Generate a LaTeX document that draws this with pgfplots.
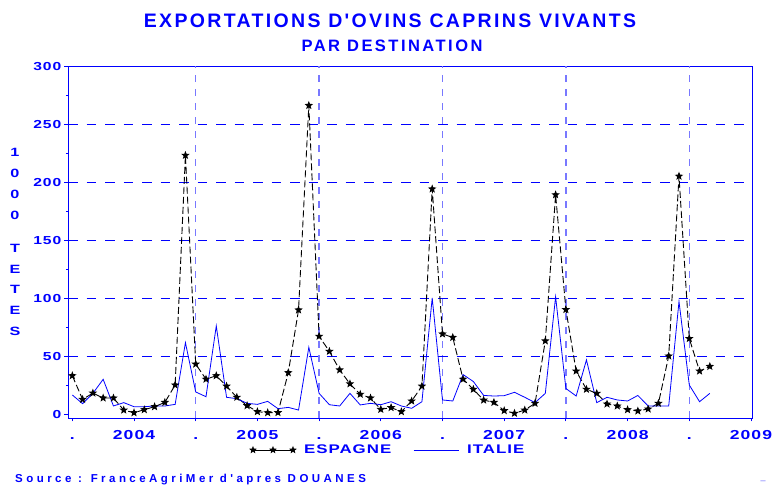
\documentclass[border=0pt]{standalone}
\usepackage{fontspec}
\setmainfont{Liberation Sans}
\newfontfamily\titlef[LetterSpace=12]{Liberation Sans}
\newfontfamily\subf[LetterSpace=15]{Liberation Sans}
\newfontfamily\tickf[LetterSpace=8,FakeStretch=1.35]{Liberation Sans}
\newfontfamily\srcf[LetterSpace=30]{Liberation Sans}
\usepackage{pgfplots}
\usepackage{pgfplotstable}
\pgfplotsset{compat=1.18}
\definecolor{sasblue}{RGB}{0,0,255}
\definecolor{lightgrid}{RGB}{120,120,255}
\pgfdeclareplotmark{fstar}{%
 \pgfpathmoveto{\pgfpointpolar{90}{\pgfplotmarksize}}%
 \pgfpathlineto{\pgfpointpolar{126}{0.42\pgfplotmarksize}}%
 \pgfpathlineto{\pgfpointpolar{162}{\pgfplotmarksize}}%
 \pgfpathlineto{\pgfpointpolar{198}{0.42\pgfplotmarksize}}%
 \pgfpathlineto{\pgfpointpolar{234}{\pgfplotmarksize}}%
 \pgfpathlineto{\pgfpointpolar{270}{0.42\pgfplotmarksize}}%
 \pgfpathlineto{\pgfpointpolar{306}{\pgfplotmarksize}}%
 \pgfpathlineto{\pgfpointpolar{342}{0.42\pgfplotmarksize}}%
 \pgfpathlineto{\pgfpointpolar{18}{\pgfplotmarksize}}%
 \pgfpathlineto{\pgfpointpolar{54}{0.42\pgfplotmarksize}}%
 \pgfpathclose\pgfusepathqfillstroke}
\pgfplotstableread{
i esp ita
0 33 16.4
1 12.6 8.9
2 18 17.8
3 13.8 29.9
4 13.8 6.9
5 3.4 9.8
6 1.1 6.3
7 3.7 6.3
8 6.3 6.9
9 10 6.9
10 25 8.3
11 223 61.5
12 43 19
13 30 14.9
14 33 75.9
15 24 14.4
16 14.4 13.2
17 7.2 9.2
18 2 8.3
19 1.1 10.9
20 1.2 4.6
21 35.6 5.7
22 89.7 3.4
23 266 57.5
24 67 17.8
25 54 8
26 38 6.9
27 26 17.8
28 17 7.8
29 13.8 9.2
30 4 8
31 5.5 10.6
32 2 6.9
33 11.2 4.9
34 24 10.6
35 194 100
36 69 12.1
37 66 11.2
38 30 34
39 21.3 28
40 12 16
41 10 15.5
42 2.9 15.8
43 0.6 18.7
44 3.4 14.4
45 9.2 9.8
46 63 17.8
47 189 101
48 90 22
49 37 15.5
50 21.3 46.6
51 17.8 9.8
52 8.6 14.4
53 6.9 12.1
54 3.7 11.2
55 2.6 16
56 4.3 6.9
57 9.2 6.9
58 50 6.9
59 205 97
60 65 25
61 37 10.6
62 41 17.8
}\datatable
\begin{document}
\begin{tikzpicture}
\path[use as bounding box] (0,0) rectangle (773pt,486pt);
\begin{axis}[
  at={(68pt,68pt)}, anchor=south west,
  scale only axis, width=684pt, height=352pt,
  xmin=-0.42, xmax=66.1, ymin=-3.45, ymax=300,
  axis line style={sasblue, line width=0.9pt},
  every tick/.style={sasblue, line width=0.8pt},
  tick pos=left, tick align=outside,
  xtick={0,6,...,66},
  xticklabels={.,2004,.,2005,.,2006,.,2007,.,2008,.,2009},
  x tick label style={font=\tickf\bfseries\fontsize{13}{13}\selectfont, text=sasblue, anchor=north, inner sep=0pt, text height=9.3pt, text depth=0pt, yshift=-9pt},
  ytick={0,50,...,300},
  minor ytick={25,75,...,275},
  major tick length=3.5pt, minor tick length=2pt,
  y tick label style={font=\tickf\bfseries\fontsize{11.6}{11.6}\selectfont, text=sasblue, anchor=east, inner sep=0pt, text height=8.3pt, text depth=0pt, xshift=-3pt},
  /pgf/number format/assume math mode=true,
  extra y ticks={50,100,150,200,250},
  extra y tick labels={},
  extra y tick style={grid=major, major grid style={sasblue, line width=0.8pt, dash pattern=on 9.5pt off 9pt}},
  extra x ticks={12,24,36,48,60},
  extra x tick labels={},
  extra x tick style={grid=major, major tick length=0pt, major grid style={lightgrid, line width=1.4pt, dash pattern=on 7pt off 7pt}},
  legend columns=2,
  legend style={draw=none, fill=none, at={(0.468,-0.091)}, anchor=center,
    font=\tickf\bfseries\fontsize{12.5}{12.5}\selectfont, text=sasblue,
    /tikz/every odd column/.append style={column sep=6pt},
    /tikz/every even column/.append style={column sep=20pt}},
]
\addplot[black, line width=0.9pt, dash pattern=on 7pt off 3pt, mark=fstar, mark size=3.2pt, mark options={solid, fill=black},
  legend image code/.code={\draw[solid, line width=0.6pt, mark repeat=1] plot coordinates {(0pt,0pt) (20pt,0pt) (40pt,0pt)};}]
  table[x=i, y=esp] {\datatable};
\addlegendentry{ESPAGNE}
\addplot[sasblue, line width=0.8pt, mark=none,
  legend image code/.code={\draw[sasblue, line width=0.8pt] (0pt,0pt) -- (45pt,0pt);}]
  table[x=i, y=ita] {\datatable};
\addlegendentry{ITALIE}
\end{axis}
\node[anchor=base, text=sasblue, font=\titlef\bfseries\fontsize{19.5}{19.5}\selectfont] at (390pt,458pt) {EXPORTATIONS D'OVINS CAPRINS VIVANTS};
\node[anchor=base, text=sasblue, font=\subf\bfseries\fontsize{16.5}{16.5}\selectfont] at (392pt,434pt) {PAR DESTINATION};
\node[align=center, text=sasblue, font=\tickf\bfseries\fontsize{12}{20.7}\selectfont] at (15pt,244pt) {1\\0\\0\\0\\[12.7pt]T\\E\\T\\E\\S};
\node[anchor=base west, text=sasblue, inner sep=0pt, font=\srcf\bfseries\fontsize{11.5}{11.5}\selectfont] at (15pt,3pt) {Source : FranceAgriMer d'apres DOUANES};
\node[anchor=base, text=sasblue, inner sep=0pt, font=\bfseries\fontsize{9}{9}\selectfont] at (763pt,5pt) {\_};
\end{tikzpicture}
\end{document}
